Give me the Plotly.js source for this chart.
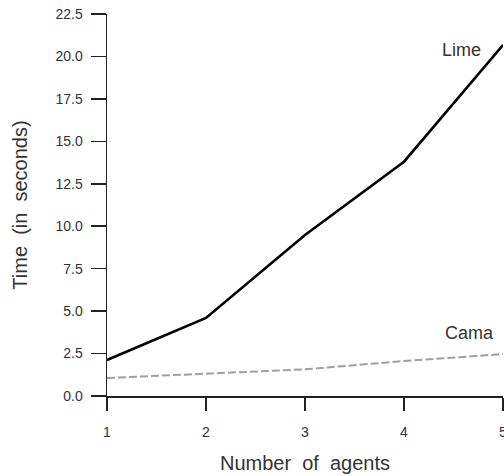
<!DOCTYPE html>
<html>
<head>
<meta charset="utf-8">
<script src="https://cdn.plot.ly/plotly-3.0.1.min.js"></script>
<style>html,body{margin:0;padding:0;background:#fff;}#chart{width:504px;height:476px;}</style>
</head>
<body>
<div id="chart"></div>
<script>
const agents = [1, 2, 3, 4, 5];
const limeTimes = [2.12, 4.6, 9.48, 13.8, 20.67];
const camaTimes = [1.06, 1.3, 1.57, 2.06, 2.47];
const yTicks = [0, 2.5, 5, 7.5, 10, 12.5, 15, 17.5, 20, 22.5];
const xTitle = "Number\u00a0\u00a0of\u00a0\u00a0agents";
const yTitle = "Time\u00a0\u00a0(in\u00a0\u00a0seconds)";

const font = "Liberation Sans, Arial, sans-serif";
const txt = "#333333";

const traces = [
  {x: agents, y: limeTimes, mode: "lines", name: "Lime",
   line: {color: "#000000", width: 2.6}},
  {x: agents, y: camaTimes, mode: "lines", name: "Cama",
   line: {color: "#a0a0a0", width: 2, dash: "8px,3px"}}
];

const layout = {
  width: 504, height: 476,
  margin: {l: 107, r: 1, t: 14, b: 80},
  paper_bgcolor: "#ffffff", plot_bgcolor: "#ffffff",
  showlegend: false,
  font: {family: font, color: txt},
  xaxis: {
    range: [1, 5], tickvals: agents, ticktext: agents.map(String),
    showgrid: false, zeroline: false, showline: true, linecolor: "#222", linewidth: 1.5,
    ticks: "outside", ticklen: 13, tickwidth: 1.5, tickcolor: "#222",
    ticklabelstandoff: 10, ticklabeloverflow: "allow",
    tickfont: {size: 14, family: font, color: txt},
    title: {text: xTitle, font: {size: 20, family: font, color: txt}, standoff: 16},
    automargin: false
  },
  yaxis: {
    range: [0, 22.5], tickvals: yTicks, ticktext: yTicks.map(v => v.toFixed(1)),
    showgrid: false, zeroline: false, showline: true, linecolor: "#222", linewidth: 1.5,
    ticks: "outside", ticklen: 15, tickwidth: 1.5, tickcolor: "#222",
    ticklabelstandoff: 5,
    tickfont: {size: 14, family: font, color: txt},
    title: {text: yTitle, font: {size: 20, family: font, color: txt}, standoff: 22},
    automargin: false
  },
  annotations: [
    {x: 4.58, y: 20.38, xref: "x", yref: "y", text: "Lime", showarrow: false,
     font: {size: 18, family: font, color: txt}},
    {x: 4.66, y: 3.71, xref: "x", yref: "y", text: "Cama", showarrow: false,
     font: {size: 18, family: font, color: txt}}
  ]
};

Plotly.newPlot("chart", traces, layout, {displayModeBar: false, staticPlot: true});
</script>
</body>
</html>
